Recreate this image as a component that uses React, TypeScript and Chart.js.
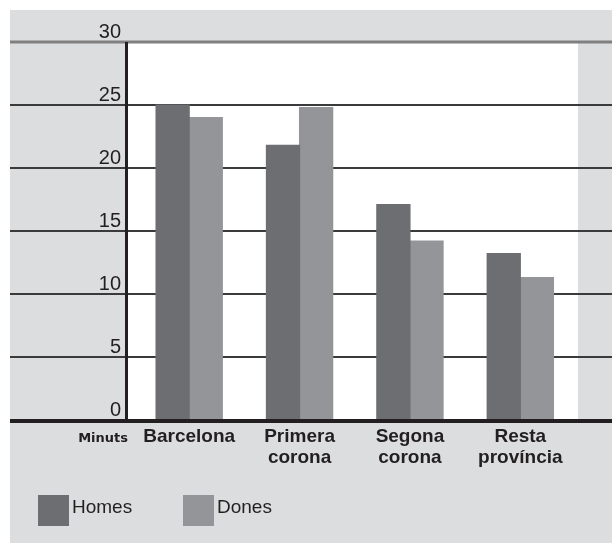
import React, { useEffect, useRef } from "react";
import { Chart, registerables } from "chart.js";

Chart.register(...registerables);

// ---- Data ----
const categories: string[][] = [
  ["Barcelona"],
  ["Primera", "corona"],
  ["Segona", "corona"],
  ["Resta", "província"],
];
const homes = [25, 21.8, 17.1, 13.2];
const dones = [24, 24.8, 14.2, 11.3];
const seriesNames = ["Homes", "Dones"];
const yTickValues = [0, 5, 10, 15, 20, 25, 30];
const unitLabel = "Minuts";

// ---- Style ----
const BG = "#dcdddf";
const HOMES_COLOR = "#6d6e71";
const DONES_COLOR = "#939598";
const INK = "#231f20";

const decorPlugin = {
  id: "decor",
  beforeDraw(chart: any) {
    const { ctx, chartArea, width, height } = chart;
    const y = chart.scales.y;
    ctx.save();
    ctx.fillStyle = "#ffffff";
    ctx.fillRect(0, 0, width, height);
    ctx.fillStyle = BG;
    ctx.fillRect(10, 10, width - 10, height - 11);
    ctx.fillStyle = "#ffffff";
    const wl = chartArea.left - 6;
    const wr = chartArea.right + 2.5;
    ctx.fillRect(wl, chartArea.top, wr - wl, chartArea.bottom - chartArea.top);
    y.ticks.forEach((t: any) => {
      if (t.value === 0) return;
      const py = y.getPixelForValue(t.value);
      const isTop = t.value === y.max;
      ctx.strokeStyle = isTop ? "#808080" : "#3a3a3a";
      ctx.lineWidth = isTop ? 3 : 2;
      ctx.beginPath();
      ctx.moveTo(10, py);
      ctx.lineTo(width, py);
      ctx.stroke();
    });
    ctx.restore();
  },
  afterDatasetsDraw(chart: any) {
    const { ctx, chartArea, width } = chart;
    const y = chart.scales.y;
    ctx.save();
    // zero line
    const y0 = y.getPixelForValue(0) + 1;
    ctx.strokeStyle = INK;
    ctx.lineWidth = 4;
    ctx.beginPath();
    ctx.moveTo(10, y0);
    ctx.lineTo(width, y0);
    ctx.stroke();
    // vertical axis line
    const ax = chartArea.left - 7.5;
    ctx.lineWidth = 3;
    ctx.beginPath();
    ctx.moveTo(ax, chartArea.top);
    ctx.lineTo(ax, y0);
    ctx.stroke();
    // unit label
    ctx.fillStyle = INK;
    ctx.font = "bold 13px 'DejaVu Sans'";
    ctx.textAlign = "right";
    ctx.textBaseline = "alphabetic";
    ctx.fillText(unitLabel, ax + 1.5, 442);
    // legend
    const colors = [HOMES_COLOR, DONES_COLOR];
    const xs = [38, 183];
    ctx.font = "19px 'Liberation Sans'";
    ctx.textAlign = "left";
    seriesNames.forEach((name, i) => {
      ctx.fillStyle = colors[i];
      ctx.fillRect(xs[i], 495, 31, 31);
      ctx.fillStyle = INK;
      ctx.fillText(name, xs[i] + 34, 513);
    });
    ctx.restore();
  },
};

export default function App() {
  const ref = useRef<HTMLCanvasElement | null>(null);
  useEffect(() => {
    if (!ref.current) return;
    const chart = new Chart(ref.current, {
      type: "bar",
      data: {
        labels: categories as any,
        datasets: [
          {
            label: seriesNames[0],
            data: homes,
            backgroundColor: HOMES_COLOR,
            borderWidth: 0,
            inflateAmount: 0.6,
            categoryPercentage: 0.6,
            barPercentage: 1.0,
          },
          {
            label: seriesNames[1],
            data: dones,
            backgroundColor: DONES_COLOR,
            borderWidth: 0,
            inflateAmount: 0.6,
            categoryPercentage: 0.6,
            barPercentage: 1.0,
          },
        ],
      },
      options: {
        responsive: false,
        animation: false,
        devicePixelRatio: 1,
        layout: { padding: { top: 42, left: 0, right: 36.5, bottom: 0 } },
        plugins: {
          legend: { display: false },
          tooltip: { enabled: false },
        },
        scales: {
          x: {
            type: "category",
            offset: true,
            grid: { display: false, drawTicks: false },
            border: { display: false },
            ticks: {
              autoSkip: false,
              maxRotation: 0,
              minRotation: 0,
              padding: 6,
              color: INK,
              font: { family: "'Liberation Sans'", size: 19, weight: "bold", lineHeight: 1.1 },
            },
            afterFit: (s: any) => {
              s.height = 124;
            },
          },
          y: {
            min: 0,
            max: 30,
            grid: { display: false, drawTicks: false },
            border: { display: false },
            afterBuildTicks: (s: any) => {
              s.ticks = yTickValues.map((v) => ({ value: v }));
            },
            ticks: {
              padding: 13,
              labelOffset: -10,
              color: INK,
              font: { family: "'Liberation Sans'", size: 20 },
            },
            afterFit: (s: any) => {
              s.width = 134;
            },
          },
        },
      },
      plugins: [decorPlugin],
    });
    return () => chart.destroy();
  }, []);
  return (
    <div style={{ position: "absolute", left: 0, top: 0, width: 612, height: 544 }}>
      <canvas ref={ref} width={612} height={544} style={{ display: "block" }} />
    </div>
  );
}
